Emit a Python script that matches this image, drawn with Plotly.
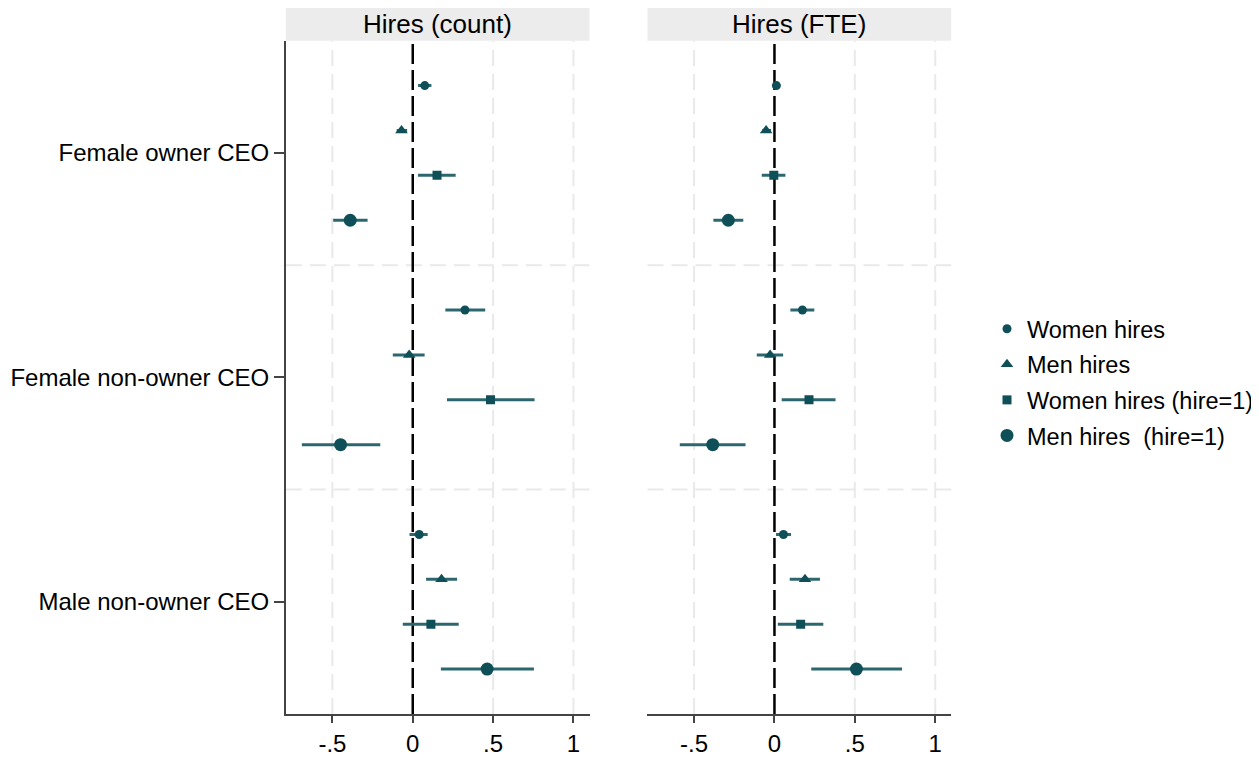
import plotly.graph_objects as go

# ---- data ----
groups = ["Female owner CEO", "Female non-owner CEO", "Male non-owner CEO"]
series = ["Women hires", "Men hires", "Women hires (hire=1)", "Men hires  (hire=1)"]
panels = ["Hires (count)", "Hires (FTE)"]

# Hires (count): estimates and CI bounds per series, ordered by groups
count_est = {
    "Women hires":          [0.075, 0.325, 0.040],
    "Men hires":            [-0.070, -0.022, 0.179],
    "Women hires (hire=1)": [0.151, 0.484, 0.113],
    "Men hires  (hire=1)":  [-0.389, -0.449, 0.463],
}
count_lo = {
    "Women hires":          [0.033, 0.203, -0.020],
    "Men hires":            [-0.100, -0.124, 0.083],
    "Women hires (hire=1)": [0.033, 0.213, -0.062],
    "Men hires  (hire=1)":  [-0.495, -0.690, 0.175],
}
count_hi = {
    "Women hires":          [0.116, 0.451, 0.093],
    "Men hires":            [-0.035, 0.074, 0.276],
    "Women hires (hire=1)": [0.267, 0.758, 0.286],
    "Men hires  (hire=1)":  [-0.281, -0.202, 0.754],
}

# Hires (FTE)
fte_est = {
    "Women hires":          [0.012, 0.174, 0.056],
    "Men hires":            [-0.052, -0.027, 0.190],
    "Women hires (hire=1)": [-0.004, 0.215, 0.163],
    "Men hires  (hire=1)":  [-0.287, -0.384, 0.510],
}
fte_lo = {
    "Women hires":          [0.000, 0.099, 0.010],
    "Men hires":            [-0.076, -0.110, 0.095],
    "Women hires (hire=1)": [-0.079, 0.045, 0.021],
    "Men hires  (hire=1)":  [-0.380, -0.589, 0.229],
}
fte_hi = {
    "Women hires":          [0.025, 0.248, 0.103],
    "Men hires":            [-0.021, 0.054, 0.283],
    "Women hires (hire=1)": [0.068, 0.380, 0.304],
    "Men hires  (hire=1)":  [-0.194, -0.180, 0.794],
}

x_ticks = [-0.5, 0, 0.5, 1]
x_ticklabels = ["-.5", "0", ".5", "1"]

# ---- styling ----
W, H = 1251, 750   # page body has an 8px margin
FONT = "Liberation Sans, Arial, sans-serif"
FS = 24
FS_LEG = 23.5
FS_HEAD = 26
MARK = "#0f4f58"
CI = "#2c676f"
GRID = "#e9e9e9"
offsets = [-0.3, -0.1, 0.1, 0.3]
symbols = ["circle", "triangle-up", "square", "circle"]
sizes = [9, 11, 9, 13]

left_dom = [278 / W, 582 / W]
right_dom = [640 / W, 944 / W]
y_dom = [(H - 706) / H, (H - 32.7) / H]
strip_top = 1.0

fig = go.Figure()

panel_data = [(count_est, count_lo, count_hi, "x", "y"), (fte_est, fte_lo, fte_hi, "x2", "y2")]
for p, (est, lo, hi, xa, ya) in enumerate(panel_data):
    for i, s in enumerate(series):
        ypos = [g + 1 + offsets[i] for g in range(len(groups))]
        e = est[s]
        plus = [h - v for h, v in zip(hi[s], e)]
        minus = [v - l for v, l in zip(e, lo[s])]
        fig.add_trace(go.Scatter(
            x=e, y=ypos, mode="markers", name=s,
            xaxis=xa, yaxis=ya,
            showlegend=(p == 0), legendgroup=s,
            marker=dict(symbol=symbols[i], size=sizes[i], color=MARK, line=dict(width=0)),
            error_x=dict(type="data", symmetric=False, array=plus, arrayminus=minus,
                         color=CI, thickness=3, width=0),
        ))

axis_common = dict(
    range=[-0.79, 1.1], tickvals=x_ticks, ticktext=x_ticklabels,
    showline=True, linecolor="#444444", linewidth=1.5,
    ticks="outside", ticklen=7, tickcolor="#444444", tickwidth=1.5,
    showgrid=False, zeroline=False,
    tickfont=dict(family=FONT, size=FS, color="black"),
    fixedrange=True, automargin=False,
)
fig.update_layout(
    xaxis=dict(domain=left_dom, anchor="y", **axis_common),
    xaxis2=dict(domain=right_dom, anchor="y2", **axis_common),
    yaxis=dict(domain=y_dom, anchor="x", range=[3.5, 0.5],
               tickvals=[1, 2, 3], ticktext=groups,
               showline=True, linecolor="#444444", linewidth=1.5,
               ticks="outside", ticklen=10, tickcolor="#444444", tickwidth=1.5,
               showgrid=False, zeroline=False, automargin=False,
               tickfont=dict(family=FONT, size=FS, color="black")),
    yaxis2=dict(domain=y_dom, anchor="x2", range=[3.5, 0.5],
                showticklabels=False, showline=False, ticks="",
                showgrid=False, zeroline=False),
)

shapes = []
annotations = []
for xa, ya, dom, title in [("x", "y", left_dom, panels[0]), ("x2", "y2", right_dom, panels[1])]:
    # vertical grid lines (dashed, light)
    for xv in x_ticks:
        if xv == 0:
            continue
        shapes.append(dict(type="line", xref=xa, yref=f"{ya} domain", x0=xv, x1=xv, y0=0, y1=1,
                           line=dict(color=GRID, width=2, dash="16px,8px"), layer="below"))
    # group separators
    for yv in [1.5, 2.5]:
        shapes.append(dict(type="line", xref=f"{xa} domain", yref=ya, x0=0, x1=1, y0=yv, y1=yv,
                           line=dict(color=GRID, width=2, dash="16px,8px"), layer="below"))
    # zero reference line
    shapes.append(dict(type="line", xref=xa, yref=f"{ya} domain", x0=0, x1=0, y0=0, y1=1,
                       line=dict(color="black", width=2.5, dash="20px,6px"), layer="below"))
    # strip header
    shapes.append(dict(type="rect", xref="paper", yref="paper", x0=dom[0], x1=dom[1],
                       y0=y_dom[1], y1=strip_top, fillcolor="#ececec", line=dict(width=0),
                       layer="below"))
    annotations.append(dict(xref="paper", yref="paper", x=(dom[0] + dom[1]) / 2,
                            y=y_dom[1] + 16.5 / H, text=title, showarrow=False,
                            xanchor="center", yanchor="middle",
                            font=dict(family=FONT, size=FS_HEAD, color="black")))

fig.update_layout(
    width=W, height=H,
    margin=dict(l=0, r=0, t=0, b=0),
    paper_bgcolor="white", plot_bgcolor="white",
    shapes=shapes, annotations=annotations,
    font=dict(family=FONT, size=FS, color="black"),
    legend=dict(x=980 / W, y=(H - 374.5) / H, xanchor="left", yanchor="middle",
                bgcolor="rgba(0,0,0,0)", tracegroupgap=2,
                font=dict(family=FONT, size=FS_LEG, color="black")),
)

fig.write_html("out.html")
